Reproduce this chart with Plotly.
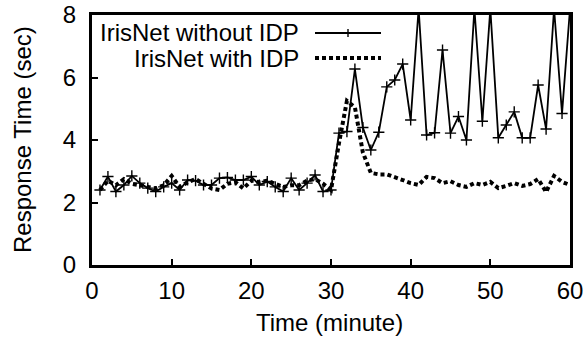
import plotly.graph_objects as go

minutes = list(range(1, 61))

without_idp = [2.40, 2.83, 2.35, 2.56, 2.85, 2.62, 2.46, 2.35, 2.50, 2.62,
               2.40, 2.72, 2.70, 2.56, 2.56, 2.78, 2.80, 2.72, 2.72, 2.83,
               2.56, 2.67, 2.50, 2.35, 2.78, 2.40, 2.62, 2.88, 2.35, 2.40,
               4.22, 4.27, 6.27, 4.40, 3.68, 4.25, 5.70, 5.92, 6.43, 4.64,
               8.20, 4.16, 4.23, 6.88, 4.22, 4.75, 4.00, 8.20, 4.60, 8.20,
               4.07, 4.48, 4.90, 4.07, 4.07, 5.76, 4.35, 8.20, 4.85, 8.20]

with_idp = [2.40, 2.70, 2.55, 2.75, 2.60, 2.55, 2.50, 2.45, 2.55, 2.85,
            2.50, 2.65, 2.75, 2.60, 2.45, 2.40, 2.60, 2.65, 2.45, 2.70,
            2.65, 2.70, 2.60, 2.50, 2.55, 2.55, 2.70, 2.75, 2.60, 2.40,
            3.90, 5.25, 5.05, 3.60, 2.95, 2.90, 2.90, 2.82, 2.72, 2.62,
            2.56, 2.82, 2.78, 2.62, 2.68, 2.56, 2.50, 2.62, 2.56, 2.66,
            2.46, 2.53, 2.62, 2.53, 2.59, 2.75, 2.34, 2.85, 2.66, 2.56]

series_names = ["IrisNet without IDP", "IrisNet with IDP"]
x_ticks = [0, 10, 20, 30, 40, 50, 60]
y_ticks = [0, 2, 4, 6, 8]
x_title = "Time (minute)"
y_title = "Response Time (sec)"

FONT = "Liberation Sans, Arial, Helvetica, sans-serif"
FS = 24
W, H = 587, 339
ML, MR, MT, MB = 92, 17, 15, 74
PW, PH = W - ML - MR, H - MT - MB


def px_x(px):
    return (px - ML) / PW


def px_y(py):
    return (H - MB - py) / PH


fig = go.Figure()
fig.add_trace(go.Scatter(
    x=minutes, y=without_idp, mode="lines+markers", name=series_names[0],
    line=dict(color="black", width=1.8),
    marker=dict(symbol="cross-thin", size=8, line=dict(color="black", width=1.4)),
    showlegend=False,
))
fig.add_trace(go.Scatter(
    x=minutes, y=with_idp, mode="lines", name=series_names[1],
    line=dict(color="black", width=4, dash="4px,3px"),
    showlegend=False,
))

axis_common = dict(
    showgrid=False, zeroline=False, showline=True, linecolor="black",
    linewidth=3, mirror=True, ticks="inside", ticklen=6, tickwidth=2,
    tickcolor="black", tickfont=dict(family=FONT, size=FS, color="black"),
    automargin=False,
)
fig.update_xaxes(range=[0, 60], tickvals=x_ticks, ticktext=[str(v) for v in x_ticks],
                 ticklabelstandoff=2, **axis_common)
fig.update_yaxes(range=[0, 8], tickvals=y_ticks, ticktext=[str(v) for v in y_ticks],
                 ticklabelstandoff=8, **axis_common)

# Axis titles
fig.add_annotation(x=px_x(329), y=px_y(322), xref="paper", yref="paper", text=x_title,
                   showarrow=False, xanchor="center", yanchor="middle",
                   font=dict(family=FONT, size=FS, color="black"))
fig.add_annotation(x=px_x(22), y=px_y(140), xref="paper", yref="paper", text=y_title,
                   showarrow=False, xanchor="center", yanchor="middle", textangle=-90,
                   font=dict(family=FONT, size=FS, color="black"))

# Legend (gnuplot style: text then sample)
leg_y = [px_y(33), px_y(58)]
for name, yy in zip(series_names, leg_y):
    fig.add_annotation(x=px_x(301), y=yy, xref="paper", yref="paper", text=name,
                       showarrow=False, xanchor="right", yanchor="middle",
                       font=dict(family=FONT, size=FS, color="black"))
fig.add_shape(type="line", xref="paper", yref="paper", x0=px_x(315), x1=px_x(381),
              y0=leg_y[0], y1=leg_y[0], line=dict(color="black", width=1.8))
fig.add_shape(type="line", xref="paper", yref="paper", x0=px_x(348), x1=px_x(348),
              y0=px_y(37), y1=px_y(29), line=dict(color="black", width=1.4))
fig.add_shape(type="line", xref="paper", yref="paper", x0=px_x(315), x1=px_x(381),
              y0=leg_y[1], y1=leg_y[1], line=dict(color="black", width=4, dash="4px,3px"))

fig.update_layout(
    width=W, height=H,
    margin=dict(l=ML, r=MR, t=MT, b=MB, autoexpand=False),
    paper_bgcolor="white", plot_bgcolor="white",
    font=dict(family=FONT, size=FS, color="black"),
)

fig.write_html("out.html", config={"displayModeBar": False, "staticPlot": True},
               post_script="document.body.style.margin='0';document.body.style.overflow='hidden';")
